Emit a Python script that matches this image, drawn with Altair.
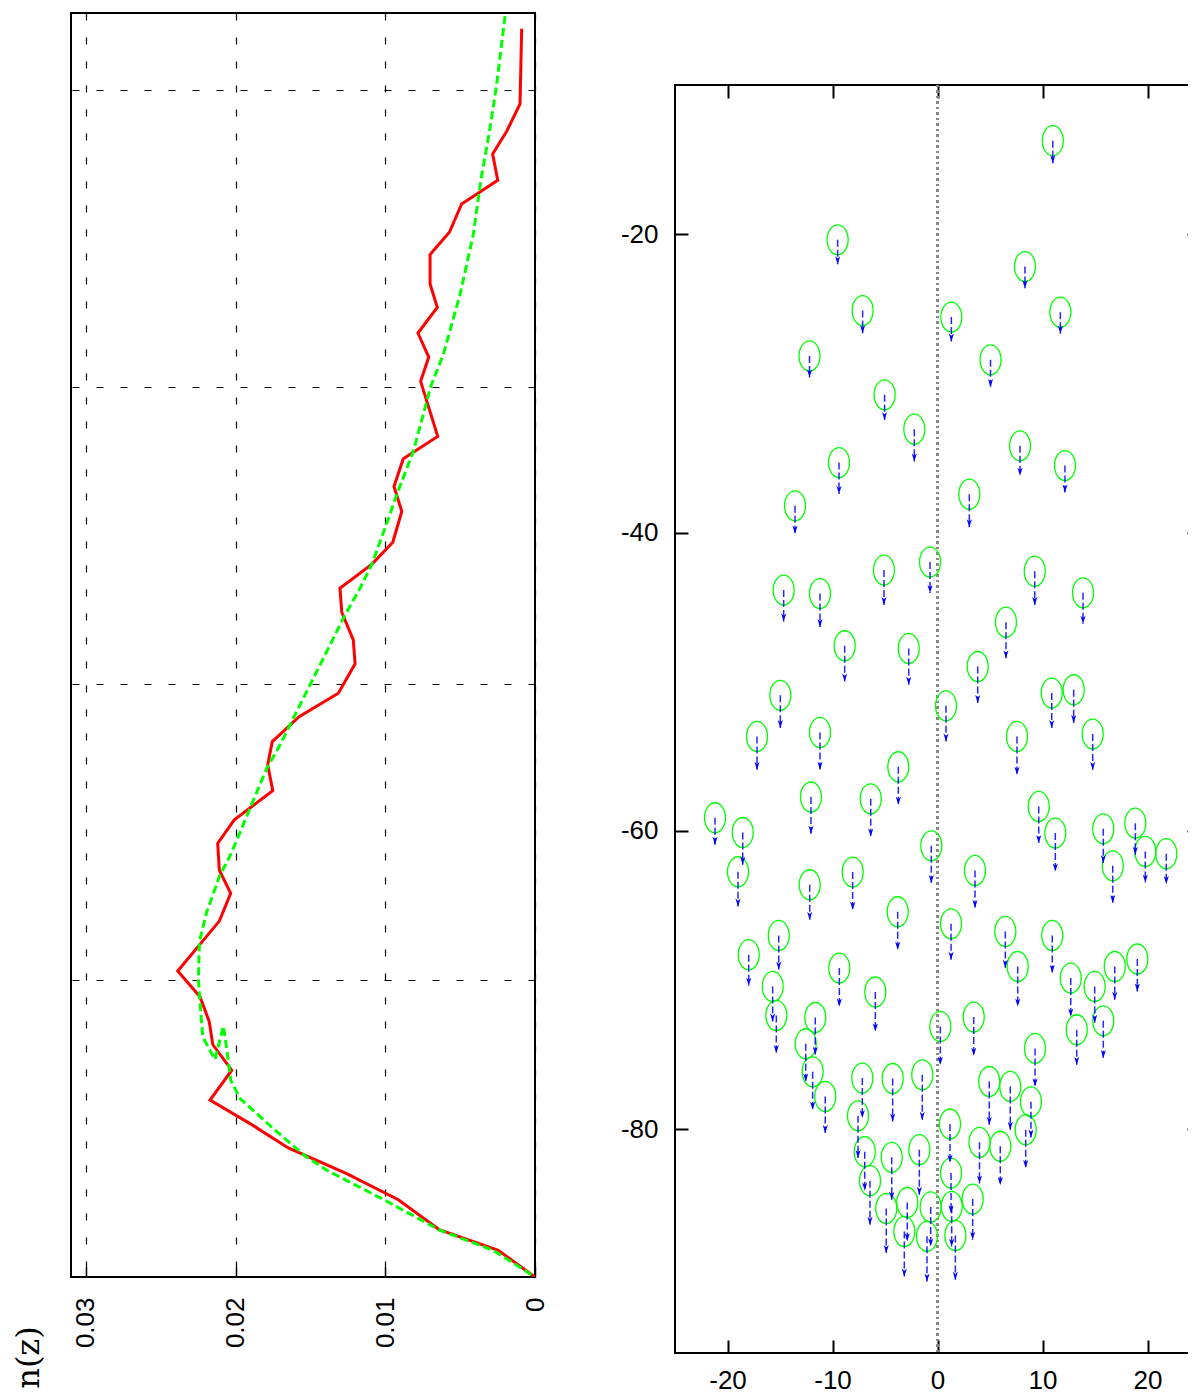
import altair as alt
import pandas as pd

# ---------------- left panel: n(z) profiles ----------------
red_n = [0.00089, 0.0010, 0.00189, 0.00283, 0.00249, 0.0049, 0.00572, 0.00701, 0.00701, 0.00653,
         0.00782, 0.0071, 0.00764, 0.0065, 0.0088, 0.00942, 0.0089, 0.0095, 0.01087, 0.01303,
         0.01291, 0.01214, 0.01202, 0.01314, 0.01576, 0.01755, 0.01786, 0.01752, 0.02009, 0.0212,
         0.02109, 0.02033, 0.02109, 0.02387, 0.02238, 0.02176, 0.02153, 0.02026, 0.02171, 0.01904,
         0.01648, 0.01258, 0.00913, 0.00639, 0.00245, 0.0]
red_z = [84.14, 79.08, 77.23, 75.70, 73.93, 72.33, 70.42, 68.92, 66.93, 65.36,
         63.63, 62.01, 60.37, 56.66, 55.16, 53.29, 51.60, 49.53, 48.07, 46.43,
         44.81, 42.95, 41.33, 39.35, 37.77, 36.09, 34.52, 32.78, 30.81, 29.23,
         27.43, 25.86, 23.99, 20.62, 18.89, 17.20, 15.67, 13.94, 11.92, 10.34,
         8.70, 6.97, 5.21, 3.19, 1.80, 0.0]

green_n = [0.002, 0.00256, 0.003, 0.00363, 0.00412, 0.00501, 0.00613, 0.00701, 0.00723, 0.00813,
           0.00924, 0.01002, 0.01091, 0.01169, 0.0128, 0.01369, 0.01481, 0.01615, 0.01703, 0.01792,
           0.01904, 0.01997, 0.02049, 0.02104, 0.02193, 0.02242, 0.02249, 0.02242, 0.0222, 0.02138,
           0.02082, 0.0206, 0.02033, 0.01971, 0.01748, 0.01536, 0.01391, 0.01002, 0.00635, 0.00279, 0.0]
green_z = [84.99, 80.38, 77.46, 73.86, 70.27, 66.22, 62.17, 59.92, 59.02, 55.65,
           52.73, 50.48, 48.01, 46.43, 44.41, 42.61, 40.36, 37.66, 35.87, 34.29,
           31.59, 29.34, 28.13, 27.12, 24.62, 22.60, 20.12, 19.02, 16.19, 14.66,
           16.91, 15.40, 13.27, 12.03, 10.00, 8.16, 7.20, 5.17, 3.15, 1.80, 0.0]

n_ticks = [0, 0.01, 0.02, 0.03]
z_grid = [0, 20, 40, 60, 80]

# ---------------- right panel: sources with arrows ----------------
src_x = [10.98, -9.51, 8.33, -7.13, 1.32, 11.70, -12.19, 5.05, -5.04, -2.21,
         7.86, -9.38, 12.14, 3.03, -13.57, -0.71, -5.10, 9.26, -14.65, -11.19,
         13.86, 6.52, -8.84, -2.74, 3.83, -14.97, 10.88, 12.97, 0.81, -17.19,
         -11.19, 7.57, 14.78, -3.73, -12.05, -6.36, 9.64, -21.19, -18.55, 11.22,
         15.79, 18.84, -0.59, 19.79, 21.79, 16.69, -19.0, -8.08, 3.57, -12.17,
         -3.79, 1.29, -15.12, 6.46, 10.93, -17.98, -9.35, 7.64, 16.88, 19.03,
         -15.70, -5.92, 12.69, 14.97, -15.35, -11.64, 3.45, 15.79, 0.27, 13.26,
         -12.55, 9.29, -11.89, -7.16, -4.27, -1.45, 4.93, 6.93, -10.69, 8.90,
         -7.57, 1.19, 8.40, 4.0, 5.98, -6.93, -4.36, -1.73, 1.29, -6.43,
         3.35, -4.88, -2.88, -0.65, 1.35, -3.16, -1.0, 1.70]
src_y = [-13.73, -20.38, -22.17, -25.12, -25.56, -25.23, -28.16, -28.42, -30.77, -33.07,
         -34.19, -35.31, -35.51, -37.43, -38.21, -41.98, -42.52, -42.59, -43.86, -44.09,
         -44.04, -46.01, -47.59, -47.77, -48.98, -50.91, -50.76, -50.54, -51.62, -53.67,
         -53.40, -53.67, -53.51, -55.70, -57.73, -57.85, -58.36, -59.12, -60.11, -60.15,
         -59.86, -59.48, -61.00, -61.38, -61.53, -62.34, -62.74, -62.76, -62.65, -63.61,
         -65.42, -66.23, -67.01, -66.74, -67.01, -68.30, -69.20, -69.09, -69.09, -68.59,
         -70.43, -70.80, -69.87, -70.43, -72.37, -72.51, -72.48, -72.73, -73.11, -73.33,
         -74.27, -74.58, -76.15, -76.57, -76.60, -76.35, -76.80, -77.13, -77.80, -78.16,
         -79.10, -79.65, -80.03, -80.88, -81.14, -81.51, -81.88, -81.37, -82.94, -83.45,
         -84.68, -85.31, -84.91, -85.21, -85.17, -86.85, -87.18, -87.12]
arrow_len = [1.51, 1.63, 1.45, 1.52, 1.63, 1.45, 1.45, 1.83, 1.68, 2.17,
             2.01, 2.10, 1.81, 2.21, 1.88, 2.08, 2.33, 2.26, 2.10, 2.25,
             2.08, 2.41, 2.39, 2.43, 2.45, 2.20, 2.35, 2.23, 2.39, 2.23,
             2.50, 2.57, 2.39, 2.55, 2.46, 2.53, 2.45, 1.81, 2.16, 2.57,
             2.30, 2.12, 2.50, 2.08, 2.03, 2.50, 2.33, 2.53, 2.52, 2.35,
             2.55, 2.41, 2.28, 2.43, 2.50, 2.08, 2.57, 2.68, 2.23, 2.17,
             2.35, 2.64, 2.57, 2.43, 2.52, 2.50, 2.59, 2.50, 2.57, 2.35,
             2.53, 2.55, 2.55, 2.68, 2.88, 3.02, 2.90, 2.90, 2.45, 2.40,
             2.83, 2.59, 2.57, 2.75, 2.59, 2.60, 2.85, 3.02, 2.70, 2.95,
             2.73, 2.99, 2.60, 2.65, 2.70, 3.02, 3.02, 2.97]

x_ticks = [-20, -10, 0, 10, 20]
y_ticks = [-20, -40, -60, -80]

LABEL_FONT = "Liberation Sans"
INWARD = alt.ExprRef(expr="-13")
PLAIN = "'' + datum.value"

# ---------- left chart ----------
df_red = pd.DataFrame({"n": red_n, "z": red_z, "i": list(range(len(red_n)))})
df_green = pd.DataFrame({"n": green_n, "z": green_z, "i": list(range(len(green_n)))})

xs_l = alt.Scale(domain=[0, 0.031], reverse=True, nice=False, zero=False)
ys_l = alt.Scale(domain=[0, 85.2], nice=False, zero=False)

x_axis_l = alt.Axis(values=n_ticks, format="~g", labelAngle=270, labelFont=LABEL_FONT,
                    labelFontSize=26, labelColor="black", labelPadding=30,
                    grid=True, gridDash=[7, 17], gridColor="black", gridWidth=1.2, gridOpacity=1,
                    domain=False, ticks=True, tickSize=alt.ExprRef(expr="-10"), tickColor="black",
                    tickWidth=1.5, title=None)
y_axis_l = alt.Axis(values=z_grid, labels=False, ticks=False, domain=False,
                    grid=True, gridDash=[7, 17], gridColor="black", gridWidth=1.2, gridOpacity=1,
                    title="n(z)", titleAngle=270, titleFont="DejaVu Serif", titleFontSize=32,
                    titleFontWeight="normal", titleColor="black", titleX=-43, titleY=1344,
                    titleAlign="center", titleBaseline="middle")

red = alt.Chart(df_red).mark_line(color="#ff0000", strokeWidth=3, clip=True).encode(
    x=alt.X("n:Q", scale=xs_l, axis=x_axis_l),
    y=alt.Y("z:Q", scale=ys_l, axis=y_axis_l),
    order=alt.Order("i:Q"),
)
green = alt.Chart(df_green).mark_line(color="#00ff00", strokeWidth=3, strokeDash=[8, 4], clip=True).encode(
    x=alt.X("n:Q", scale=xs_l),
    y=alt.Y("z:Q", scale=ys_l),
    order=alt.Order("i:Q"),
)
left = alt.layer(red, green).properties(width=464, height=1264)

# ---------- right chart ----------
df_src = pd.DataFrame({"x": src_x, "y": src_y, "len": arrow_len})

xs_r = alt.Scale(domain=[-25, 25], nice=False, zero=False)
ys_r = alt.Scale(domain=[-95, -10], nice=False, zero=False)

ELLIPSE = ("M0,-1 C0.387,-1 0.7,-0.552 0.7,0 C0.7,0.552 0.387,1 0,1 "
           "C-0.387,1 -0.7,0.552 -0.7,0 C-0.7,-0.552 -0.387,-1 0,-1 Z")
HEAD = "M0,0 L-0.32,-1 L0,-0.72 L0.32,-1 Z"

x_axis_b = alt.Axis(values=x_ticks, labelExpr=PLAIN, labelFont=LABEL_FONT, labelFontSize=26,
                    labelColor="black", labelPadding=27, domain=False, ticks=True, tickSize=INWARD,
                    tickColor="black", tickWidth=2, grid=False, title=None)
y_axis_lft = alt.Axis(values=y_ticks, labelExpr=PLAIN, labelFont=LABEL_FONT, labelFontSize=26,
                      labelColor="black", labelPadding=30, domain=False, ticks=True, tickSize=INWARD,
                      tickColor="black", tickWidth=2, grid=False, title=None)
x_axis_t = alt.Axis(orient="top", values=x_ticks, labels=False, domain=False, ticks=True,
                    tickSize=INWARD, tickColor="black", tickWidth=2, grid=False, title=None)
y_axis_rgt = alt.Axis(orient="right", values=y_ticks, labels=False, domain=False, ticks=True,
                      tickSize=INWARD, tickColor="black", tickWidth=2, grid=False, title=None)

zero_line = alt.Chart(df_src).mark_rule(color="#888888", strokeDash=[2, 3.5], strokeWidth=1.5).encode(
    x=alt.datum(0, scale=xs_r, axis=None),
)

base = alt.Chart(df_src).transform_calculate(tip="datum.y - datum.len")

circles = base.mark_point(shape=ELLIPSE, size=900, filled=False, stroke="#00ff00",
                          strokeWidth=1.3, opacity=1).encode(
    x=alt.X("x:Q", scale=xs_r, axis=x_axis_b),
    y=alt.Y("y:Q", scale=ys_r, axis=y_axis_lft),
)
shafts = base.mark_rule(color="#0000ff", strokeWidth=1.5, strokeDash=[7, 3], opacity=0.85).encode(
    x=alt.X("x:Q", scale=xs_r, axis=x_axis_t),
    y=alt.Y("y:Q", scale=ys_r, axis=y_axis_rgt),
    y2="tip:Q",
)
heads = base.mark_point(shape=HEAD, size=256, filled=True, color="#0000ff", opacity=1,
                        strokeWidth=0).encode(
    x=alt.X("x:Q", scale=xs_r, axis=None),
    y=alt.Y("tip:Q", scale=ys_r, axis=None),
)

right = alt.layer(zero_line, circles, shafts, heads).resolve_axis(
    x="independent", y="independent"
).properties(width=525, height=1268)

# invisible spacer that pushes the right panel down
spacer = alt.Chart(pd.DataFrame({"v": [0]})).mark_point(opacity=0).encode(
    x=alt.X("v:Q", axis=None), y=alt.Y("v:Q", axis=None)
).properties(width=525, height=69, view=alt.ViewBackground(stroke="transparent", fill="transparent"))

right_col = alt.vconcat(spacer, right, spacing=0)

chart = alt.hconcat(left, right_col, spacing=70).properties(
    padding={"left": 3, "top": 4, "right": -14, "bottom": -3}
).configure_view(stroke="black", strokeWidth=2)

chart.save("out.html", embed_options={"renderer": "svg", "actions": False})
